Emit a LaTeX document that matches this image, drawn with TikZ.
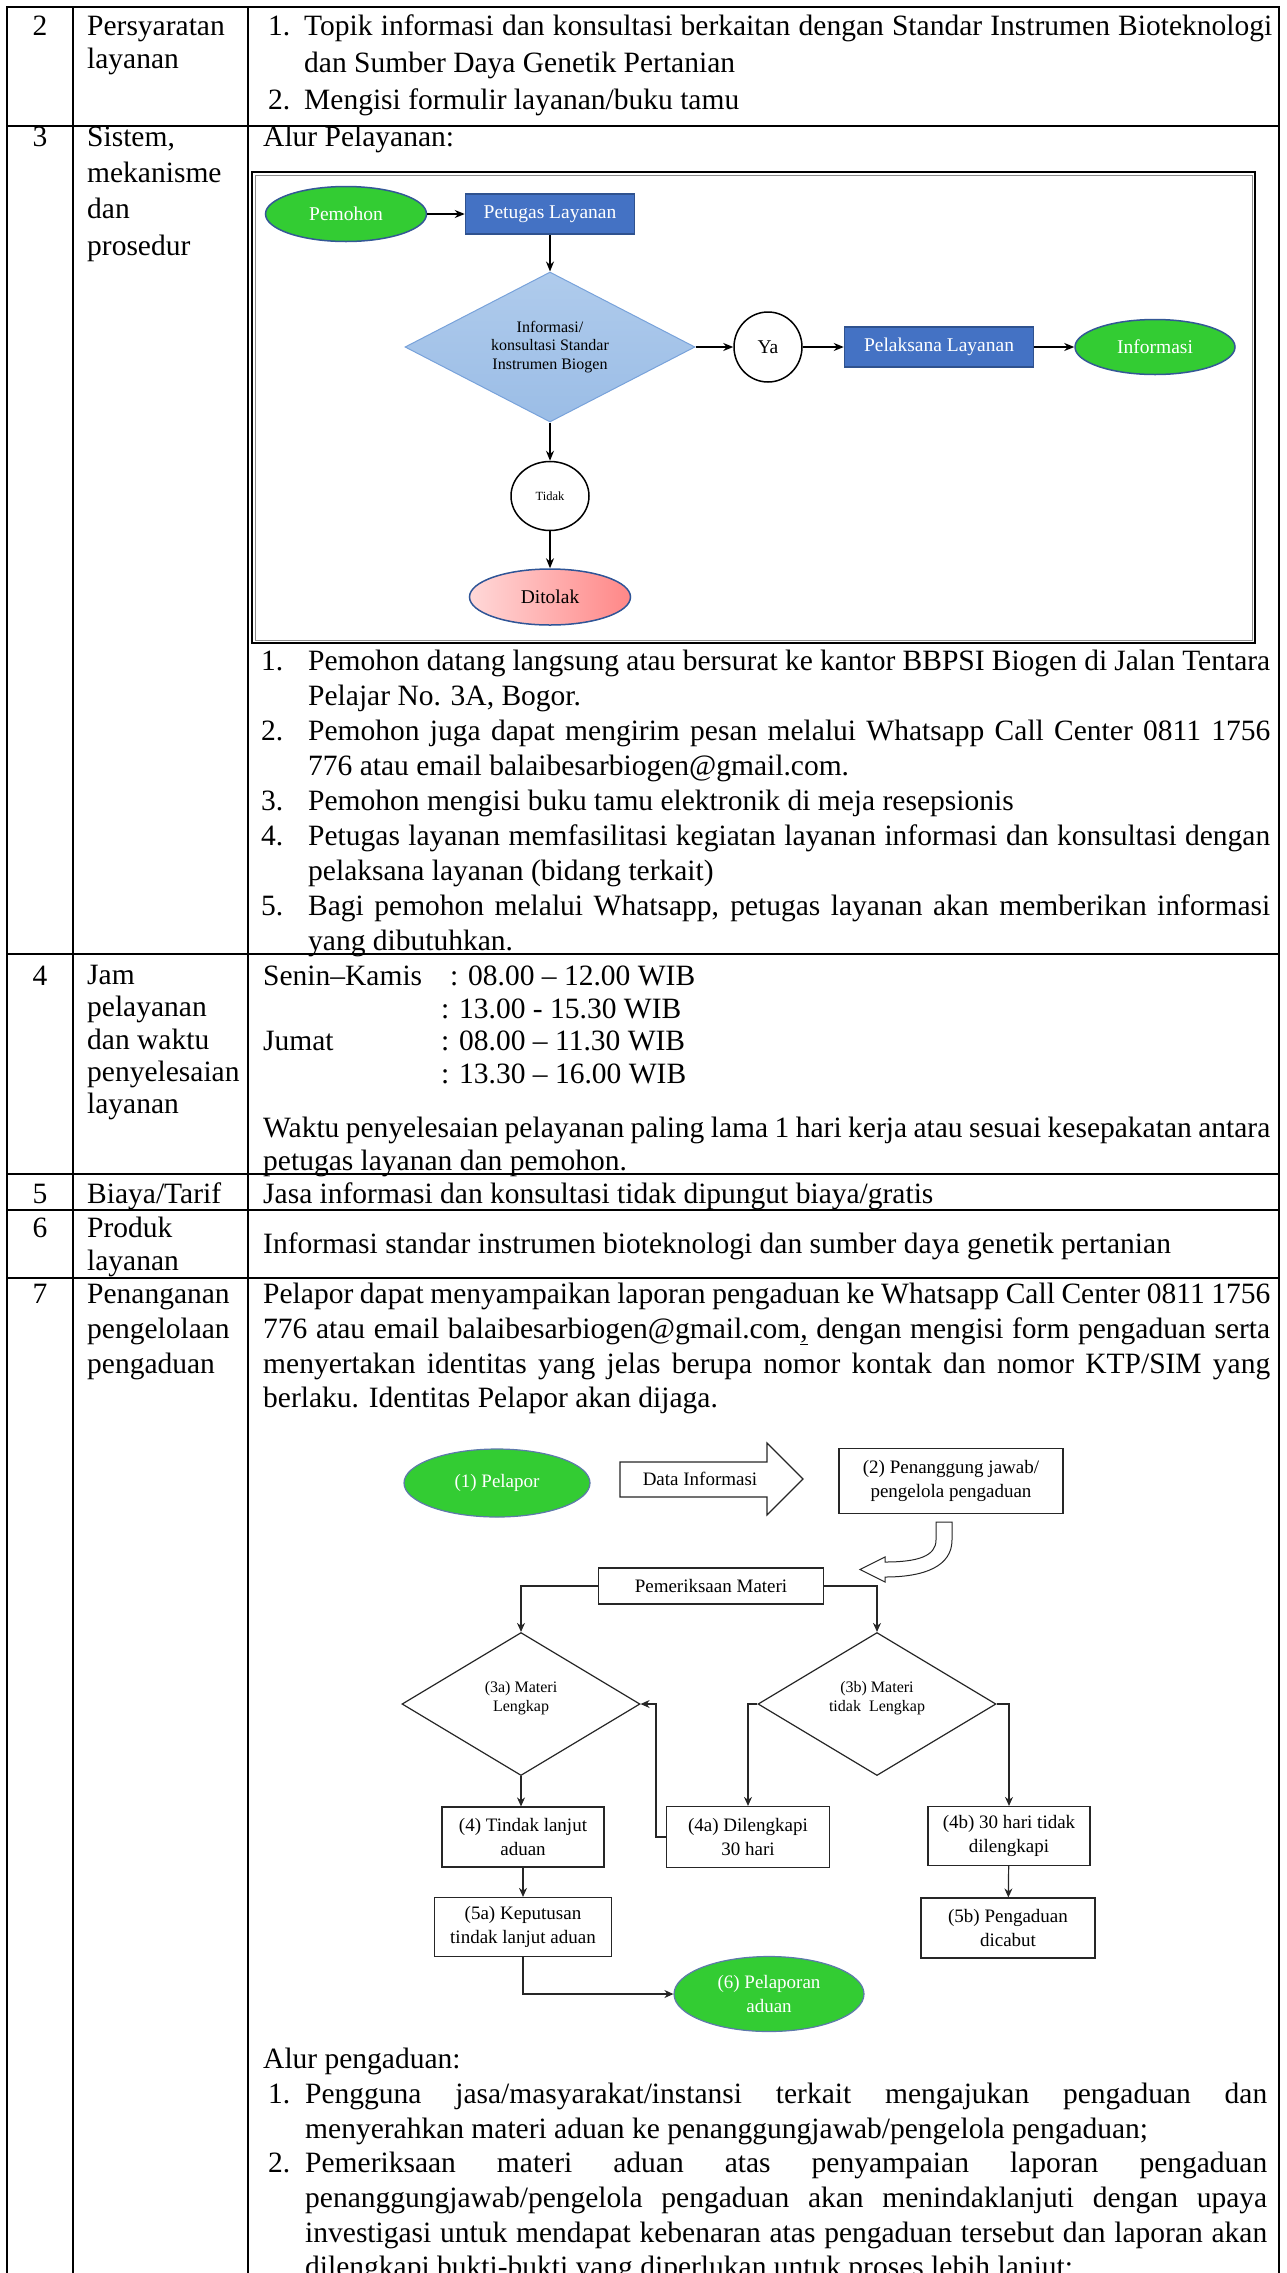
\documentclass[tikz,border=0pt]{standalone}
\usepackage{fontspec}
\setmainfont{Liberation Serif}
\usetikzlibrary{shapes.geometric,arrows.meta}

\definecolor{termgreen}{RGB}{51,204,51}
\definecolor{termedge}{RGB}{52,88,150}
\definecolor{procblue}{RGB}{68,114,196}
\definecolor{procedge}{RGB}{47,82,143}
\definecolor{decfill}{RGB}{155,189,230}
\definecolor{decfilltop}{RGB}{175,203,236}
\definecolor{decedge}{RGB}{120,162,218}
\definecolor{rejlight}{RGB}{255,216,216}
\definecolor{rejdark}{RGB}{255,135,135}
\definecolor{rejedge}{RGB}{47,85,151}

\newcommand\bodyfont{\fontsize{29.5}{33}\selectfont}
\newcommand\chartfont{\fontsize{19.5}{23}\selectfont}
\newcommand\boxfont{\fontsize{19}{24}\selectfont}
\newcommand\decfont{\fontsize{16}{18.5}\selectfont}
\newcommand\justline[2]{\makebox[#1pt][s]{#2}}

\begin{document}
\begin{tikzpicture}[x=1pt,y=-1pt,
  rule/.style={line width=2pt},
  txt/.style={anchor=base west,inner sep=0pt,font=\bodyfont},
  num/.style={anchor=base,inner sep=0pt,font=\bodyfont},
  terminal/.style={ellipse,draw=termedge,line width=1.5pt,fill=termgreen,text=white,inner sep=0pt,font=\chartfont,align=center},
  process/.style={rectangle,draw=procedge,line width=1.5pt,fill=procblue,text=white,inner sep=0pt,font=\chartfont},
  choice/.style={ellipse,draw=black,line width=1.5pt,fill=white,inner sep=0pt,font=\chartfont},
  decision/.style={diamond,aspect=2,draw=decedge,line width=1pt,top color=decfilltop,bottom color=decfill,inner sep=0pt,font=\decfont,align=center},
  reject/.style={ellipse,draw=rejedge,line width=1.5pt,left color=rejlight,right color=rejdark,inner sep=0pt,font=\chartfont},
  flow/.style={line width=1.5pt,-{Stealth[length=10pt,width=8pt]}},
  plainbox/.style={rectangle,draw=black!85,line width=1.2pt,fill=white,inner sep=0pt,font=\boxfont,align=center},
  plaindia/.style={diamond,draw=black!85,line width=1.2pt,fill=white,inner sep=0pt},
  diatext/.style={inner sep=0pt,font=\decfont,align=center},
  link/.style={line width=1.2pt,draw=black!85},
  linkarrow/.style={link,-{Stealth[length=9pt,width=8pt]}},
]
\useasboundingbox (0,0) rectangle (1286,2273);

% ---------- table grid ----------
\draw[rule] (6,7) -- (1280,7);
\foreach \yy in {126,954,1174,1210,1278}
  \draw[rule] (6,\yy) -- (1280,\yy);
\foreach \xx in {7,73,248,1279}
  \draw[rule] (\xx,6) -- (\xx,2280);

% ---------- row 2 ----------
\node[num] (n2) at (40,35) {2};
\node[txt] (h2a) at (87,35) {Persyaratan};
\node[txt] (h2b) at (87,68) {layanan};
\node[txt] (r2n1) at (268,35) {1.};
\node[txt] (r2a) at (304,35) {\justline{968}{Topik informasi dan konsultasi berkaitan dengan Standar Instrumen Bioteknologi}};
\node[txt] (r2b) at (304,72) {dan Sumber Daya Genetik Pertanian};
\node[txt] (r2n2) at (268,109) {2.};
\node[txt] (r2c) at (304,109) {Mengisi formulir layanan/buku tamu};

% ---------- row 3 ----------
\node[num] (n3) at (40,146) {3};
\node[txt] (h3a) at (87,146) {Sistem,};
\node[txt] (h3b) at (87,182) {mekanisme};
\node[txt] (h3c) at (87,218) {dan};
\node[txt] (h3d) at (87,255) {prosedur};
\node[txt] (r3title) at (263,146) {Alur Pelayanan:};

% service flow frame
\draw[line width=2pt] (252,172) rectangle (1255,643);
\draw[black!45,line width=0.8pt] (255,175) rectangle (1252,640);

\node[terminal,minimum width=161pt,minimum height=55pt] (pemohon) at (346,214) {Pemohon};
\node[process,minimum width=169pt,minimum height=40pt] (petugas) at (550,214) {Petugas Layanan};
\node[decision,minimum width=290pt,minimum height=150pt] (cek) at (550,347) {Informasi/\\konsultasi Standar\\Instrumen Biogen};
\node[choice,minimum width=68pt,minimum height=70pt] (ya) at (768,347) {Ya};
\node[process,minimum width=189pt,minimum height=40pt] (pelaksana) at (939,347) {Pelaksana Layanan};
\node[terminal,minimum width=160pt,minimum height=55pt] (informasi) at (1155,347) {Informasi};
\node[choice,minimum width=78pt,minimum height=69pt,font=\fontsize{12.5}{14}\selectfont] (tidak) at (550,496) {Tidak};
\node[reject,minimum width=161pt,minimum height=56pt] (ditolak) at (550,597) {Ditolak};

\draw[flow] (pemohon) -- (petugas);
\draw[flow] (petugas) -- (cek);
\draw[flow] (cek) -- (ya);
\draw[flow] (ya) -- (pelaksana);
\draw[flow] (pelaksana) -- (informasi);
\draw[flow] (cek) -- (tidak);
\draw[flow] (tidak) -- (ditolak);

% procedure list
\node[txt] (r3n1) at (261,670) {1.};
\node[txt] (r3a) at (308,670) {\justline{962}{Pemohon datang langsung atau bersurat ke kantor BBPSI Biogen di Jalan Tentara}};
\node[txt] (r3b) at (308,705) {Pelajar No. 3A, Bogor.};
\node[txt] (r3n2) at (261,740) {2.};
\node[txt] (r3c) at (308,740) {\justline{962}{Pemohon juga dapat mengirim pesan melalui Whatsapp Call Center 0811 1756}};
\node[txt] (r3d) at (308,775) {776 atau email balaibesarbiogen@gmail.com.};
\node[txt] (r3n3) at (261,810) {3.};
\node[txt] (r3e) at (308,810) {Pemohon mengisi buku tamu elektronik di meja resepsionis};
\node[txt] (r3n4) at (261,845) {4.};
\node[txt] (r3f) at (308,845) {\justline{962}{Petugas layanan memfasilitasi kegiatan layanan informasi dan konsultasi dengan}};
\node[txt] (r3g) at (308,880) {pelaksana layanan (bidang terkait)};
\node[txt] (r3n5) at (261,915) {5.};
\node[txt] (r3h) at (308,915) {\justline{962}{Bagi pemohon melalui Whatsapp, petugas layanan akan memberikan informasi}};
\node[txt] (r3i) at (308,950) {yang dibutuhkan.};

% ---------- row 4 ----------
\node[num] (n4) at (40,985) {4};
\node[txt] (h4a) at (87,984) {Jam};
\node[txt] (h4b) at (87,1016) {pelayanan};
\node[txt] (h4c) at (87,1049) {dan waktu};
\node[txt] (h4d) at (87,1081) {penyelesaian};
\node[txt] (h4e) at (87,1113) {layanan};
\node[txt] (r4d1) at (263,985) {Senin–Kamis};
\node[txt] (r4t1) at (450,985) {: 08.00 – 12.00 WIB};
\node[txt] (r4t2) at (441,1018) {: 13.00 - 15.30 WIB};
\node[txt] (r4d2) at (263,1050) {Jumat};
\node[txt] (r4t3) at (441,1050) {: 08.00 – 11.30 WIB};
\node[txt] (r4t4) at (441,1083) {: 13.30 – 16.00 WIB};
\node[txt] (r4a) at (263,1137) {\justline{1007}{Waktu penyelesaian pelayanan paling lama 1 hari kerja atau sesuai kesepakatan antara}};
\node[txt] (r4b) at (263,1170) {petugas layanan dan pemohon.};

% ---------- row 5 ----------
\node[num] (n5) at (40,1203) {5};
\node[txt] (h5) at (87,1203) {Biaya/Tarif};
\node[txt] (r5) at (263,1203) {Jasa informasi dan konsultasi tidak dipungut biaya/gratis};

% ---------- row 6 ----------
\node[num] (n6) at (40,1237) {6};
\node[txt] (h6a) at (87,1237) {Produk};
\node[txt] (h6b) at (87,1270) {layanan};
\node[txt] (r6) at (263,1253) {Informasi standar instrumen bioteknologi dan sumber daya genetik pertanian};

% ---------- row 7 ----------
\node[num] (n7) at (40,1303) {7};
\node[txt] (h7a) at (87,1303) {Penanganan};
\node[txt] (h7b) at (87,1338) {pengelolaan};
\node[txt] (h7c) at (87,1373) {pengaduan};
\node[txt] (r7a) at (263,1303) {\justline{1007}{Pelapor dapat menyampaikan laporan pengaduan ke Whatsapp Call Center 0811 1756}};
\node[txt] (r7b) at (263,1338) {\justline{1007}{776 atau email balaibesarbiogen@gmail.com\underline{,} dengan mengisi form pengaduan serta}};
\node[txt] (r7c) at (263,1373) {\justline{1007}{menyertakan identitas yang jelas berupa nomor kontak dan nomor KTP/SIM yang}};
\node[txt] (r7d) at (263,1407) {berlaku. Identitas Pelapor akan dijaga.};

% complaint flow
\node[terminal,draw=termedge!80,line width=1.2pt,font=\boxfont,minimum width=186pt,minimum height=68pt] (pelapor) at (497,1483) {(1) Pelapor};
\draw[link,fill=white] (620,1462) -- (767,1462) -- (767,1443) -- (803,1479) -- (767,1515) -- (767,1497) -- (620,1497) -- cycle;
\node[inner sep=0pt,font=\boxfont] (datainfo) at (700,1479) {Data Informasi};
\node[plainbox,minimum width=224pt,minimum height=65pt] (pj) at (951,1481) {(2) Penanggung jawab/\\pengelola pengaduan};
\draw[link,line width=1pt,fill=white] (936,1522) -- (952,1522) -- (952,1540)
  .. controls (952,1566) and (925,1577) .. (885,1577) -- (885,1582) -- (860,1569.5)
  -- (885,1557) -- (885,1562) .. controls (918,1562) and (936,1556) .. (936,1540) -- cycle;
\node[plainbox,minimum width=225pt,minimum height=36pt] (periksa) at (711,1586) {Pemeriksaan Materi};

\node[plaindia,minimum width=238pt,minimum height=143pt] (d3a) at (521,1704) {};
\node[diatext] (d3atext) at (521,1698) {(3a) Materi\\Lengkap};
\node[plaindia,minimum width=238pt,minimum height=143pt] (d3b) at (877,1704) {};
\node[diatext] (d3btext) at (877,1698) {(3b) Materi\\tidak\ \ Lengkap};

\node[plainbox,minimum width=162pt,minimum height=60pt] (s4) at (523,1837) {(4) Tindak lanjut\\aduan};
\node[plainbox,minimum width=163pt,minimum height=61pt] (s4a) at (748,1837) {(4a) Dilengkapi\\30 hari};
\node[plainbox,minimum width=162pt,minimum height=59pt] (s4b) at (1009,1836) {(4b) 30 hari tidak\\dilengkapi};
\node[plainbox,minimum width=177pt,minimum height=59pt] (s5a) at (523,1927) {(5a) Keputusan\\tindak lanjut aduan};
\node[plainbox,minimum width=174pt,minimum height=60pt] (s5b) at (1008,1928) {(5b) Pengaduan\\dicabut};
\node[terminal,draw=termedge!80,line width=1.2pt,font=\boxfont,minimum width=190pt,minimum height=75pt] (s6) at (769,1994) {(6) Pelaporan\\aduan};

\draw[linkarrow] (periksa.west) -| (d3a.north);
\draw[linkarrow] (periksa.east) -| (d3b.north);
\draw[linkarrow] (d3a.south) -- (d3a.south |- s4.north);
\draw[linkarrow] (s4a.west) -- ++(-10,0) |- (d3a.east);
\draw[linkarrow] (d3b.west) -| (s4a.north);
\draw[linkarrow] (d3b.east) -| (s4b.north);
\draw[linkarrow] (s4) -- (s5a);
\draw[linkarrow] (s4b) -- (s5b);
\draw[linkarrow] (s5a.south) |- (s6.west);

% complaint procedure
\node[txt] (r7title) at (263,2068) {Alur pengaduan:};
\node[txt] (r7n1) at (268,2103) {1.};
\node[txt] (r7e) at (305,2103) {\justline{962}{Pengguna jasa/masyarakat/instansi terkait mengajukan pengaduan dan}};
\node[txt] (r7f) at (305,2138) {menyerahkan materi aduan ke penanggungjawab/pengelola pengaduan;};
\node[txt] (r7n2) at (268,2172) {2.};
\node[txt] (r7g) at (305,2172) {\justline{962}{Pemeriksaan materi aduan atas penyampaian laporan pengaduan}};
\node[txt] (r7h) at (305,2207) {\justline{962}{penanggungjawab/pengelola pengaduan akan menindaklanjuti dengan upaya}};
\node[txt] (r7i) at (305,2242) {\justline{962}{investigasi untuk mendapat kebenaran atas pengaduan tersebut dan laporan akan}};
\node[txt] (r7j) at (305,2276) {dilengkapi bukti-bukti yang diperlukan untuk proses lebih lanjut;};
\end{tikzpicture}
\end{document}
